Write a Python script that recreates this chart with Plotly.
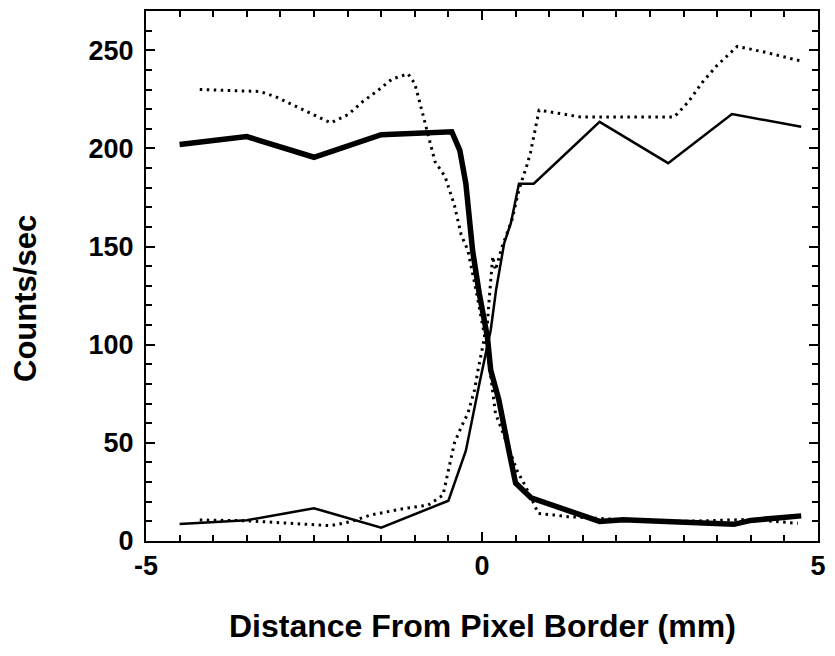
import plotly.graph_objects as go

# Thick solid: counts falling across the border
thick_x = [-4.5, -3.5, -2.5, -1.5, -0.45, -0.33, -0.24, -0.14, -0.04, 0.08, 0.13, 0.25, 0.4, 0.5, 0.73, 1.1, 1.75, 2.1, 3.2, 3.75, 4.0, 4.75]
thick_y = [202, 206, 195.5, 207, 208.5, 199, 182, 148, 126, 104, 87, 72, 46, 29.5, 22, 17.5, 10, 10.8, 9.2, 8.5, 10.5, 12.8]

# Thin solid: counts rising across the border
thin_x = [-4.5, -3.5, -2.5, -1.5, -0.5, -0.24, -0.04, 0.13, 0.21, 0.33, 0.43, 0.55, 0.77, 1.75, 2.77, 3.72, 4.75]
thin_y = [8.7, 10.6, 16.7, 6.8, 20.5, 46, 80, 107.5, 128, 151.7, 162, 182, 182, 213.5, 192.5, 217.5, 211]

# Dotted series falling
dotA_x = [-4.2, -3.75, -3.3, -3.05, -2.65, -2.25, -1.99, -1.78, -1.55, -1.34, -1.1, -1.0, -0.9, -0.7, -0.55, -0.41, -0.31, -0.21, -0.09, 0.01, 0.08, 0.13, 0.2, 0.28, 0.52, 0.65, 0.84, 1.06, 1.28, 2.0, 3.0, 4.0, 4.7]
dotA_y = [230, 229.5, 229, 226, 219.5, 213, 217.3, 223.7, 229.5, 235.3, 238, 233, 220, 193.3, 185.7, 171, 156, 148, 128, 109, 97, 84, 65, 58, 36, 27.7, 14, 13.3, 12.4, 11, 10, 11, 9]

# Dotted series rising
dotB_x = [-4.2, -3.5, -2.25, -1.96, -1.66, -1.2, -0.8, -0.58, -0.41, -0.31, -0.21, -0.11, -0.06, 0.01, 0.08, 0.11, 0.16, 0.2, 0.3, 0.45, 0.55, 0.67, 0.72, 0.85, 1.13, 1.47, 2.86, 3.07, 3.28, 3.49, 3.8, 4.25, 4.75]
dotB_y = [10.7, 10.3, 7.8, 9.8, 13.2, 16.3, 18.3, 23.4, 50, 58, 65, 77, 87, 99, 111, 124.5, 145, 138, 150, 164, 179, 191.6, 197.6, 219.5, 218, 216, 216, 223.7, 233.7, 242, 252, 248.7, 244.5]

x_ticks = [-5, 0, 5]
y_ticks = [0, 50, 100, 150, 200, 250]

FAM = "Liberation Sans, Arial, sans-serif"

fig = go.Figure()
fig.add_trace(go.Scatter(x=dotA_x, y=dotA_y, mode="lines",
                         line=dict(color="black", width=3, dash="2.5px,4.5px")))
fig.add_trace(go.Scatter(x=dotB_x, y=dotB_y, mode="lines",
                         line=dict(color="black", width=3, dash="2.5px,4.5px")))
fig.add_trace(go.Scatter(x=thin_x, y=thin_y, mode="lines",
                         line=dict(color="black", width=2.5)))
fig.add_trace(go.Scatter(x=thick_x, y=thick_y, mode="lines",
                         line=dict(color="black", width=5.5)))

tickfont = dict(family=FAM, size=27, color="black", weight=700)

fig.update_layout(
    width=819, height=640,
    margin=dict(l=138, r=1, t=3, b=107),
    paper_bgcolor="white", plot_bgcolor="white",
    showlegend=False,
    xaxis=dict(range=[-5, 5], tickmode="array", tickvals=x_ticks,
               ticktext=[str(v) for v in x_ticks],
               ticks="inside", ticklen=9, tickwidth=2, tickcolor="black",
               showline=True, linewidth=2, linecolor="black", mirror="allticks",
               showgrid=False, zeroline=False, tickfont=tickfont,
               ticklabeloverflow="allow",
               minor=dict(dtick=0.5, ticks="inside", ticklen=6, tickwidth=1.5, tickcolor="black")),
    yaxis=dict(range=[0, 270], tickmode="array", tickvals=y_ticks,
               ticktext=[str(v) for v in y_ticks],
               ticks="inside", ticklen=9, tickwidth=2, tickcolor="black",
               showline=True, linewidth=2, linecolor="black", mirror="allticks",
               showgrid=False, zeroline=False, tickfont=tickfont, ticklabelstandoff=5,
               minor=dict(dtick=10, ticks="inside", ticklen=6, tickwidth=1.5, tickcolor="black")),
    annotations=[
        dict(text="Counts/sec", xref="paper", yref="paper", x=-0.179, y=0.458,
             textangle=-90, showarrow=False, xanchor="center", yanchor="middle",
             font=dict(family=FAM, size=31, color="black", weight=700)),
        dict(text="Distance From Pixel Border (mm)", xref="paper", yref="paper", x=0.5, y=-0.161,
             showarrow=False, xanchor="center", yanchor="middle",
             font=dict(family=FAM, size=32, color="black", weight=700)),
    ],
)

fig.write_html("out.html")
